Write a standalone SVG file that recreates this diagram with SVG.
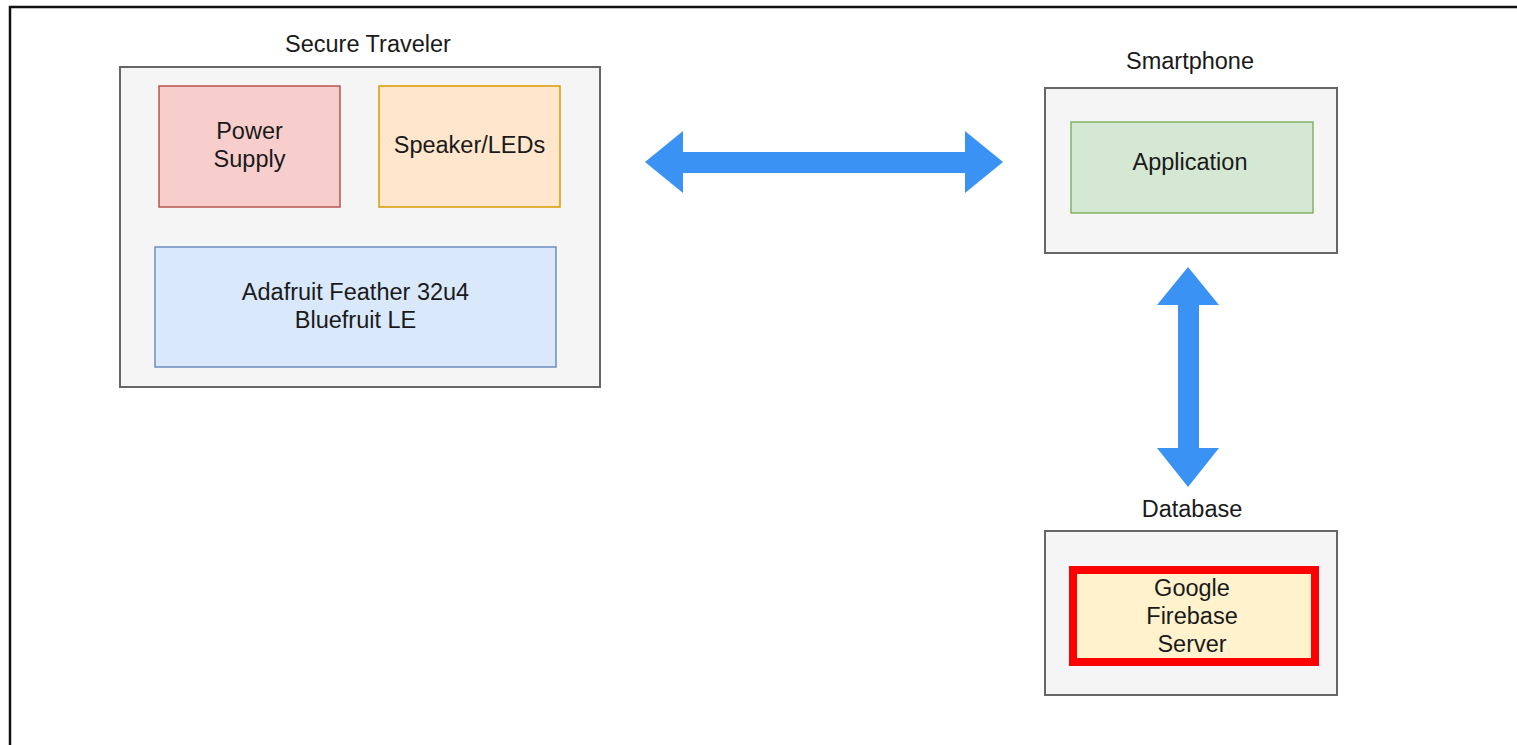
<svg xmlns="http://www.w3.org/2000/svg" width="1517" height="745" viewBox="0 0 1517 745">
<style>
text{font-family:"Liberation Sans",Arial,Helvetica,sans-serif;font-size:23.5px;fill:#1a1a1a;text-anchor:middle}
.outer{fill:#f5f5f5;stroke:#666;stroke-width:2}
.arrow{fill:#3a93f4;stroke:none}
</style>
<rect width="1517" height="745" fill="#fff"/>
<path d="M10,745 V7 H1517" fill="none" stroke="#111" stroke-width="2.5"/>
<g id="secure-traveler">
<text x="368" y="52">Secure Traveler</text>
<rect class="outer" x="120" y="67" width="480" height="320"/>
</g>
<g id="power-supply">
<rect x="159" y="86" width="181" height="121" fill="#f8cecc" stroke="#b85450" stroke-width="1.5"/>
<text x="249.5" y="139">Power</text>
<text x="249.5" y="167">Supply</text>
</g>
<g id="speaker-leds">
<rect x="379" y="86" width="181" height="121" fill="#ffe6cc" stroke="#d79b00" stroke-width="1.5"/>
<text x="469.5" y="153">Speaker/LEDs</text>
</g>
<g id="adafruit">
<rect x="155" y="247" width="401" height="120" fill="#dae8fc" stroke="#6c8ebf" stroke-width="1.5"/>
<text x="355.5" y="300">Adafruit Feather 32u4</text>
<text x="355.5" y="328">Bluefruit LE</text>
</g>
<g id="smartphone">
<text x="1190" y="69">Smartphone</text>
<rect class="outer" x="1045" y="88" width="292" height="165"/>
</g>
<g id="application">
<rect x="1071" y="122" width="242" height="91" fill="#d5e8d4" stroke="#82b366" stroke-width="1.5"/>
<text x="1190" y="170">Application</text>
</g>
<g id="database">
<text x="1192" y="517">Database</text>
<rect class="outer" x="1045" y="531" width="292" height="164"/>
</g>
<g id="firebase">
<rect x="1073" y="570" width="242" height="92" fill="#fff2cc" stroke="#ff0000" stroke-width="8"/>
<text x="1192" y="596">Google</text>
<text x="1192" y="624">Firebase</text>
<text x="1192" y="652">Server</text>
</g>
<g id="connectors">
<polygon class="arrow" points="645,162 683,131 683,152 965,152 965,131 1003,162 965,193 965,173 683,173 683,193"/>
<polygon class="arrow" points="1188,267 1219,305 1199,305 1199,448 1219,448 1188,487 1157,448 1178,448 1178,305 1157,305"/>
</g>
</svg>
